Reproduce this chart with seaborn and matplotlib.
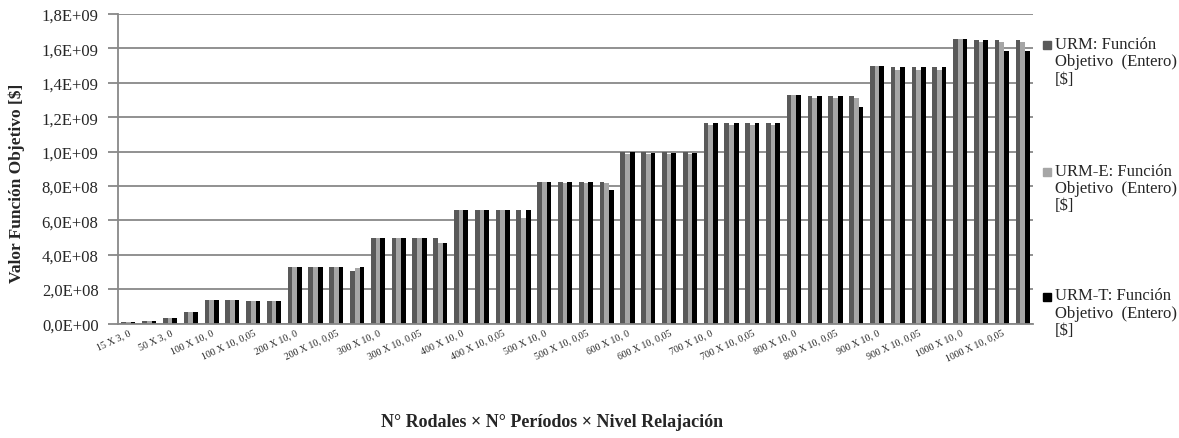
import pandas as pd
import matplotlib.pyplot as plt
import seaborn as sns
from matplotlib.patches import Rectangle
from matplotlib.ticker import FuncFormatter

# Data (values in $)
labels = ["15 X 3, 0", "", "50 X 3, 0", "",
          "100 X 10, 0", "", "100 X 10, 0,05", "",
          "200 X 10, 0", "", "200 X 10, 0,05", "",
          "300 X 10, 0", "", "300 X 10, 0,05", "",
          "400 X 10, 0", "", "400 X 10, 0,05", "",
          "500 X 10, 0", "", "500 X 10, 0,05", "",
          "600 X 10, 0", "", "600 X 10, 0,05", "",
          "700 X 10, 0", "", "700 X 10, 0,05", "",
          "800 X 10, 0", "", "800 X 10, 0,05", "",
          "900 X 10, 0", "", "900 X 10, 0,05", "",
          "1000 X 10, 0", "", "1000 X 10, 0,05", ""]

# values in units of 1e8 $
urm = [0.06, 0.15, 0.32, 0.64, 1.37, 1.37, 1.33, 1.33, 3.30, 3.30, 3.28, 3.05,
       5.00, 4.98, 4.98, 5.00, 6.63, 6.62, 6.62, 6.62, 8.25, 8.25, 8.25, 8.25,
       9.96, 9.96, 9.96, 9.96, 11.66, 11.66, 11.66, 11.66, 13.27, 13.25, 13.25, 13.25,
       14.95, 14.90, 14.90, 14.90, 16.53, 16.50, 16.50, 16.50]
urm_e = [0.06, 0.15, 0.32, 0.64, 1.37, 1.37, 1.33, 1.33, 3.30, 3.29, 3.26, 3.22,
         4.99, 4.96, 4.96, 4.68, 6.60, 6.58, 6.58, 6.14, 8.22, 8.20, 8.20, 8.15,
         9.88, 9.86, 9.88, 9.86, 11.56, 11.54, 11.54, 11.54, 13.27, 13.13, 13.13, 13.13,
         14.95, 14.77, 14.77, 14.77, 16.53, 16.38, 16.38, 16.38]
urm_t = [0.06, 0.16, 0.32, 0.68, 1.37, 1.37, 1.33, 1.33, 3.30, 3.29, 3.27, 3.27,
         5.00, 4.97, 4.98, 4.70, 6.63, 6.60, 6.62, 6.62, 8.25, 8.23, 8.25, 7.76,
         9.96, 9.94, 9.94, 9.94, 11.66, 11.66, 11.64, 11.64, 13.27, 13.22, 13.22, 12.59,
         14.95, 14.90, 14.90, 14.90, 16.53, 16.48, 15.87, 15.85]

series = ["URM: Función\nObjetivo  (Entero)\n[$]",
          "URM-E: Función\nObjetivo  (Entero)\n[$]",
          "URM-T: Función\nObjetivo  (Entero)\n[$]"]
colors = ["#595959", "#a6a6a6", "#000000"]

rows = []
for name, vals in zip(series, [urm, urm_e, urm_t]):
    for i, v in enumerate(vals):
        rows.append({"cat": i, "serie": name, "valor": v * 1e8})
df = pd.DataFrame(rows)

sns.set_style("white")
plt.rcParams['font.family'] = ['Liberation Serif', 'DejaVu Serif']

fig = plt.figure(figsize=(11.79, 4.39), dpi=100)
ax = fig.add_axes([118 / 1179, 1 - 324.5 / 439, 915 / 1179, 309.5 / 439])

sns.barplot(data=df, x="cat", y="valor", hue="serie", palette=colors,
            width=0.68, saturation=1, ax=ax, legend=False,
            linewidth=0, edgecolor="none")

grid_c = "#888888"
ax.set_ylim(0, 1.8e9)
ax.set_xlim(-0.5, len(labels) - 0.5)
ax.set_yticks([i * 2e8 for i in range(10)])
ax.yaxis.set_major_formatter(FuncFormatter(lambda v, p: f"{v:.1E}".replace(".", ",")))
ax.yaxis.grid(True, color=grid_c, linewidth=1.3)
ax.set_axisbelow(True)
for s in ["top", "right"]:
    ax.spines[s].set_visible(False)
for s in ["left", "bottom"]:
    ax.spines[s].set_color(grid_c)
    ax.spines[s].set_linewidth(1.3)
ax.tick_params(axis="y", left=True, length=7, width=1.3, color=grid_c,
               pad=7, labelsize=12)
ax.tick_params(axis="x", length=0, pad=3)
ax.set_xticks(range(len(labels)))
ax.set_xticklabels(labels, rotation=25, ha="right", va="top",
                   rotation_mode="anchor", fontsize=7)
ax.set_xlabel("")
ax.set_ylabel("")

fig.text(552 / 1179, 1 - 423 / 439, "N° Rodales × N° Períodos × Nivel Relajación",
         ha="center", va="center", fontsize=13, fontweight="bold")
fig.text(17 / 1179, 1 - 183 / 439, "Valor Función Objetivo [$]", rotation=90,
         ha="center", va="center", fontsize=12.5, fontweight="bold")

# legend on the right, marker at first line of each entry
for k, (name, c) in enumerate(zip(series, colors)):
    yc = [46, 172.5, 297.5][k]
    fig.add_artist(Rectangle((1043 / 1179, 1 - (yc + 4) / 439), 8 / 1179, 8 / 439,
                             transform=fig.transFigure, color=c))
    fig.text(1055 / 1179, 1 - (yc - 9) / 439, name, ha="left", va="top",
             fontsize=12, linespacing=1.12)

fig.savefig("out.png", dpi=100)
